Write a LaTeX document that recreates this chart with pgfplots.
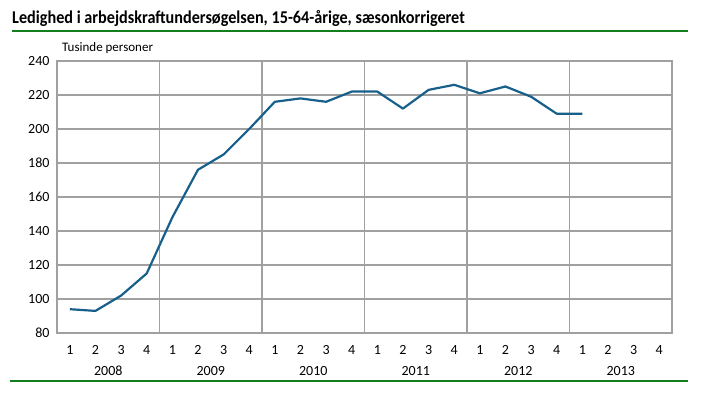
\documentclass[border=0pt]{standalone}
\usepackage{pgfplots}
\pgfplotsset{compat=1.18}
\usepackage{fontspec}
\setmainfont{Carlito}
\newfontfamily\titlefont[FakeStretch=0.9]{Carlito}
\definecolor{lineblue}{RGB}{24,96,140}
\definecolor{gridgray}{RGB}{160,160,160}
\definecolor{rulegreen}{RGB}{20,125,30}
\begin{document}
\begin{tikzpicture}
\useasboundingbox (0pt,0pt) rectangle (709pt,399pt);
\node[anchor=base west, inner sep=0, font=\titlefont\bfseries\fontsize{18}{21}\selectfont] at (12pt,375pt) {Ledighed i arbejdskraftundersøgelsen, 15-64-årige, sæsonkorrigeret};
\draw[rulegreen, line width=2pt] (12pt,368pt) -- (688pt,368pt);
\draw[rulegreen, line width=2pt] (10pt,18pt) -- (688pt,18pt);
\node[anchor=base west, inner sep=0, font=\fontsize{13}{15}\selectfont] at (62pt,347pt) {Tusinde personer};
\begin{axis}[
  at={(57pt,66pt)}, anchor=south west,
  width=615pt, height=272pt, scale only axis,
  xmin=0.5, xmax=24.5, ymin=80, ymax=240,
  ytick={80,100,...,240},
  xtick={1,...,24},
  xticklabels={1,2,3,4,1,2,3,4,1,2,3,4,1,2,3,4,1,2,3,4,1,2,3,4},
  extra x ticks={4.5,8.5,12.5,16.5,20.5},
  extra x tick labels={},
  extra x tick style={grid=major},
  ymajorgrids,
  major tick length=0pt,
  grid style={gridgray, line width=1.6pt},
  axis line style={gridgray, line width=1.6pt},
  tick label style={font=\fontsize{14}{16}\selectfont},
  xticklabel style={yshift=-9pt},
  yticklabel style={xshift=-4pt},
  /pgf/number format/assume math mode=true,
  clip=false,
]
\addplot[lineblue, line width=2.2pt, line join=round] coordinates {
(1,94) (2,93) (3,102) (4,115)
(5,148) (6,176) (7,185) (8,200)
(9,216) (10,218) (11,216) (12,222)
(13,222) (14,212) (15,223) (16,226)
(17,221) (18,225) (19,219) (20,209)
(21,209)
};
\foreach \yr/\xc in {2008/2.5,2009/6.5,2010/10.5,2011/14.5,2012/18.5,2013/22.5}{
  \edef\tmp{\noexpand\node[font=\noexpand\fontsize{14}{16}\noexpand\selectfont] at (axis cs:\xc,80) [yshift=-38pt] {\yr};}
  \tmp
}
\end{axis}
\end{tikzpicture}
\end{document}
